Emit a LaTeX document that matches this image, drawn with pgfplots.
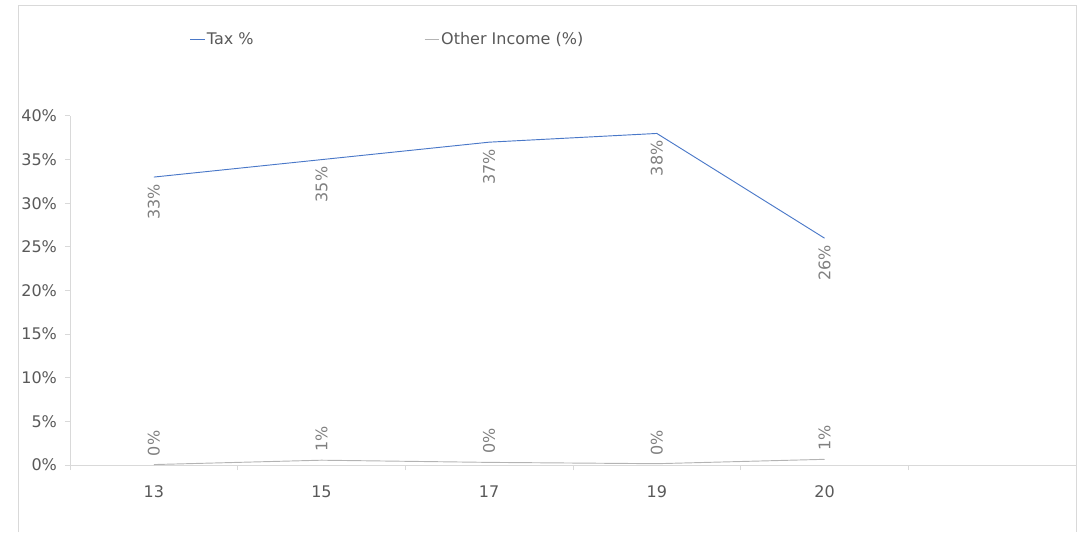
\documentclass[border=0pt]{standalone}
\usepackage{fontspec}
\setmainfont{DejaVu Sans}
\usepackage{pgfplots}
\pgfplotsset{compat=1.18}
\definecolor{taxblue}{HTML}{4A78C8}
\definecolor{othergray}{HTML}{B4B4B4}
\definecolor{axisgray}{HTML}{D9D9D9}
\definecolor{txt}{HTML}{595959}
\definecolor{lbl}{HTML}{808080}
\newcommand{\chfont}{\fontsize{12}{14}\selectfont}
\begin{document}
\begin{tikzpicture}
% page frame, 1px = 0.75pt
\useasboundingbox (0,0) rectangle (819pt,399pt);
\draw[axisgray, line width=0.75pt] (13.5pt,0pt) -- (13.5pt,394.5pt) -- (807pt,394.5pt) -- (807pt,0pt);
\begin{axis}[
  at={(52.5pt,50.25pt)}, anchor=south west, scale only axis,
  width=754.5pt, height=261.75pt,
  xmin=-0.5, xmax=5.5, ymin=0, ymax=40,
  axis x line=bottom, axis y line=left, axis line style={-, axisgray, line width=0.75pt},
  xtick={0,1,2,3,4}, xticklabels={13,15,17,19,20},
  minor xtick={-0.5,0.5,1.5,2.5,3.5,4.5},
  major x tick style={draw=none},
  ytick={0,5,...,40},
  yticklabel={\pgfmathprintnumber{\tick}\%},
  /pgf/number format/assume math mode=true,
  tick align=outside, major tick length=3.75pt, minor tick length=3.75pt,
  tick style={axisgray, line width=0.75pt},
  ticklabel style={font=\chfont, text=txt},
  xticklabel style={yshift=-8pt},
  yticklabel style={xshift=-2.5pt},
  nodes near coords={\pgfmathprintnumber[fixed,precision=0]{\pgfplotspointmeta}\%},
  every node near coord/.append style={font=\chfont, text=lbl, rotate=90},
  legend style={at={(0.115,1.22)}, anchor=west, draw=none, fill=none,
    font=\chfont, text=txt, legend columns=2,
    /tikz/every even column/.append style={column sep=127pt},
    nodes={inner sep=1pt}},
  legend image code/.code={\draw[#1] (0pt,0pt) -- (11pt,0pt);},
  clip=false,
]
\addplot[taxblue, line width=0.7pt, mark=none,
  every node near coord/.append style={anchor=east, inner sep=5pt}]
  coordinates {(0,33) (1,35) (2,37) (3,38) (4,26)};
\addplot[othergray, line width=0.7pt, mark=none,
  every node near coord/.append style={anchor=west, inner sep=6pt}]
  coordinates {(0,0.05) (1,0.55) (2,0.3) (3,0.15) (4,0.65)};
\legend{Tax \%, Other Income (\%)}
\end{axis}
\end{tikzpicture}
\end{document}
